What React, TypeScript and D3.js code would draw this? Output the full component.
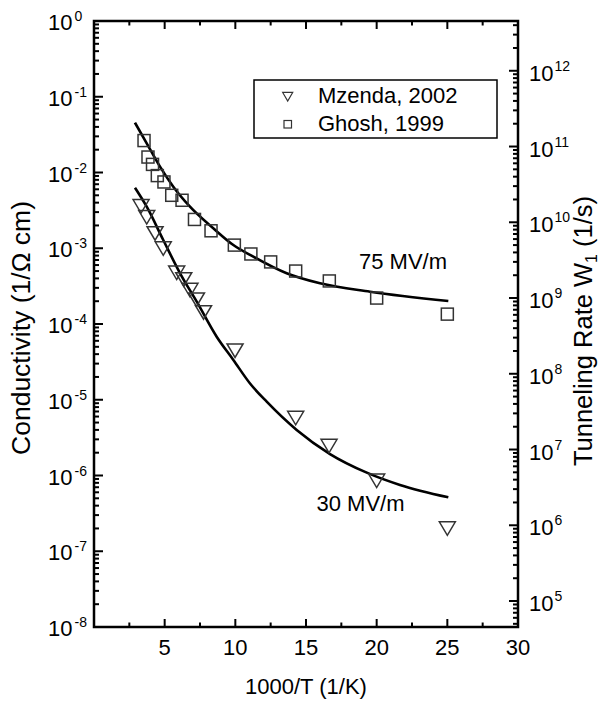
import React from "react";
import * as d3 from "d3";

// Ghosh, 1999 (squares)
const ghoshX = [3.54, 3.82, 4.14, 4.48, 4.95, 5.5, 6.23, 7.11, 8.28, 9.93, 11.1, 12.5, 14.27, 16.65, 20.0, 25.0];
const ghoshY = [0.0264, 0.016, 0.0128, 0.0091, 0.0075, 0.005, 0.0043, 0.0024, 0.0017, 0.0011, 0.00084, 0.00066, 0.0005, 0.00037, 0.00022, 0.000135];

// Mzenda, 2002 (down triangles)
const mzendaX = [3.33, 3.73, 4.32, 4.9, 5.85, 6.35, 6.79, 7.25, 7.75, 9.98, 14.27, 16.63, 20.0, 25.0];
const mzendaY = [0.00358, 0.00256, 0.00157, 0.00099, 0.000474, 0.000387, 0.000281, 0.000209, 0.000142, 4.44e-5, 5.74e-6, 2.45e-6, 8.5e-7, 1.99e-7];

// Model curve, 75 MV/m
const fit75X = [2.9, 3.73, 4.67, 5.61, 6.79, 8.44, 9.86, 11.27, 13.63, 15.99, 19.53, 25.07];
const fit75Y = [0.0454, 0.0243, 0.01194, 0.0065, 0.00354, 0.001837, 0.001104, 0.000774, 0.000467, 0.000344, 0.000267, 0.000201];

// Model curve, 30 MV/m
const fit30X = [2.9, 3.73, 4.9, 6.09, 7.27, 8.68, 9.86, 11.04, 12.22, 14.34, 16.7, 19.3, 21.65, 25.07];
const fit30Y = [0.0063, 0.00354, 0.001285, 0.000467, 0.000197, 6.79e-5, 3.35e-5, 1.64e-5, 9.42e-6, 3.99e-6, 1.92e-6, 1.09e-6, 7.5e-7, 5.15e-7];

const xTickLabels = [5, 10, 15, 20, 25, 30];
const leftExponents = [0, -1, -2, -3, -4, -5, -6, -7, -8];
const rateFactor = 4.54e12; // tunneling rate per unit conductivity (right axis offset)

const legendLabels = ["Mzenda, 2002", "Ghosh, 1999"];
const curveLabels = ["75 MV/m", "30 MV/m"];

const FONT = "'Liberation Sans', Arial, Helvetica, sans-serif";

export default function App() {
  const W = 599, H = 702;
  const x0 = 94, x1 = 518, yTop = 21, yBot = 627;
  const x = d3.scaleLinear().domain([0, 30]).range([x0, x1]);
  const y = d3.scaleLog().domain([1e-8, 1]).range([yBot, yTop]);
  const yR = d3.scaleLog().domain([1e-8 * rateFactor, 1 * rateFactor]).range([yBot, yTop]);

  const line = d3
    .line<[number, number]>()
    .x((d) => x(d[0]))
    .y((d) => y(d[1]))
    .curve(d3.curveMonotoneX);

  const fit75 = fit75X.map((v, i) => [v, fit75Y[i]] as [number, number]);
  const fit30 = fit30X.map((v, i) => [v, fit30Y[i]] as [number, number]);

  const xMajor = d3.range(0, 31, 5);
  const xMinor = d3.range(2.5, 30, 5);
  const leftMinor: number[] = [];
  for (let k = -8; k < 0; k++) for (let m = 2; m <= 9; m++) leftMinor.push(m * Math.pow(10, k));
  const [rLo, rHi] = yR.domain();
  const rightMajor: number[] = [];
  const rightMinor: number[] = [];
  for (let k = 4; k <= 12; k++)
    for (let m = 1; m <= 9; m++) {
      const v = m * Math.pow(10, k);
      if (v < rLo || v > rHi) continue;
      if (m === 1) rightMajor.push(v);
      else rightMinor.push(v);
    }

  const axisStroke = { stroke: "#000", strokeWidth: 2 };
  const tri = (cx: number, cy: number, w: number, h: number) =>
    `M${cx - w / 2},${cy - h / 2}L${cx + w / 2},${cy - h / 2}L${cx},${cy + h / 2}Z`;

  return (
    <svg
      width={W}
      height={H}
      style={{ position: "absolute", left: 0, top: 0, background: "#fff" }}
      fontFamily={FONT}
    >
      <rect x={0} y={0} width={W} height={H} fill="#fff" />

      {xMajor.map((v) => (
        <g key={"xM" + v}>
          <line x1={x(v)} x2={x(v)} y1={yBot} y2={yBot - 8} {...axisStroke} />
          <line x1={x(v)} x2={x(v)} y1={yTop} y2={yTop + 8} {...axisStroke} />
        </g>
      ))}
      {xMinor.map((v) => (
        <g key={"xm" + v}>
          <line x1={x(v)} x2={x(v)} y1={yBot} y2={yBot - 4.5} {...axisStroke} />
          <line x1={x(v)} x2={x(v)} y1={yTop} y2={yTop + 4.5} {...axisStroke} />
        </g>
      ))}
      {xTickLabels.map((v) => (
        <text key={"xl" + v} x={x(v)} y={655} fontSize={22} textAnchor="middle">
          {v}
        </text>
      ))}

      {leftExponents.map((k) => (
        <g key={"yM" + k}>
          <line x1={x0} x2={x0 + 9} y1={y(Math.pow(10, k))} y2={y(Math.pow(10, k))} {...axisStroke} />
          <text x={48} y={y(Math.pow(10, k)) + 9} fontSize={22}>
            <tspan>10</tspan>
            <tspan dx={2} dy={-9} fontSize={14}>
              {k}
            </tspan>
          </text>
        </g>
      ))}
      {leftMinor.map((v, i) => (
        <line key={"ym" + i} x1={x0} x2={x0 + 5} y1={y(v)} y2={y(v)} {...axisStroke} />
      ))}

      {rightMajor.map((v) => (
        <g key={"rM" + v}>
          <line x1={x1} x2={x1 - 9} y1={yR(v)} y2={yR(v)} {...axisStroke} />
          <text x={529} y={yR(v) + 10} fontSize={22}>
            <tspan>10</tspan>
            <tspan dx={1} dy={-10} fontSize={14}>
              {Math.round(Math.log10(v))}
            </tspan>
          </text>
        </g>
      ))}
      {rightMinor.map((v, i) => (
        <line key={"rm" + i} x1={x1} x2={x1 - 5} y1={yR(v)} y2={yR(v)} {...axisStroke} />
      ))}

      <rect x={x0} y={yTop} width={x1 - x0} height={yBot - yTop} fill="none" stroke="#000" strokeWidth={2.5} />

      <path d={line(fit75) || ""} fill="none" stroke="#000" strokeWidth={2.6} />
      <path d={line(fit30) || ""} fill="none" stroke="#000" strokeWidth={2.6} />

      {ghoshX.map((v, i) => (
        <rect
          key={"g" + i}
          x={x(v) - 6}
          y={y(ghoshY[i]) - 6}
          width={12}
          height={12}
          fill="none"
          stroke="#333"
          strokeWidth={1.5}
        />
      ))}
      {mzendaX.map((v, i) => (
        <path key={"m" + i} d={tri(x(v), y(mzendaY[i]), 16, 13.5)} fill="none" stroke="#333" strokeWidth={1.5} />
      ))}

      <text x={359} y={269} fontSize={22}>
        {curveLabels[0]}
      </text>
      <text x={316.5} y={510.5} fontSize={22}>
        {curveLabels[1]}
      </text>

      <rect x={254} y={80} width={243} height={58} fill="#fff" stroke="#000" strokeWidth={1.5} />
      <path d={tri(287.7, 96.7, 10, 8.5)} fill="none" stroke="#333" strokeWidth={1.2} />
      <rect x={284} y={120.5} width={7.5} height={7.5} fill="none" stroke="#333" strokeWidth={1.2} />
      <text x={318} y={103.3} fontSize={22}>
        {legendLabels[0]}
      </text>
      <text x={318} y={131} fontSize={22}>
        {legendLabels[1]}
      </text>

      <text x={(x0 + x1) / 2} y={694} fontSize={22} textAnchor="middle">
        1000/T (1/K)
      </text>
      <text transform={`translate(30,328) rotate(-90)`} fontSize={26.5} textAnchor="middle">
        Conductivity (1/Ω cm)
      </text>
      <text transform={`translate(592,331) rotate(-90)`} fontSize={25.5} textAnchor="middle">
        Tunneling Rate W<tspan fontSize={16} dy={5}>1</tspan>
        <tspan dy={-5}> (1/s)</tspan>
      </text>
    </svg>
  );
}
